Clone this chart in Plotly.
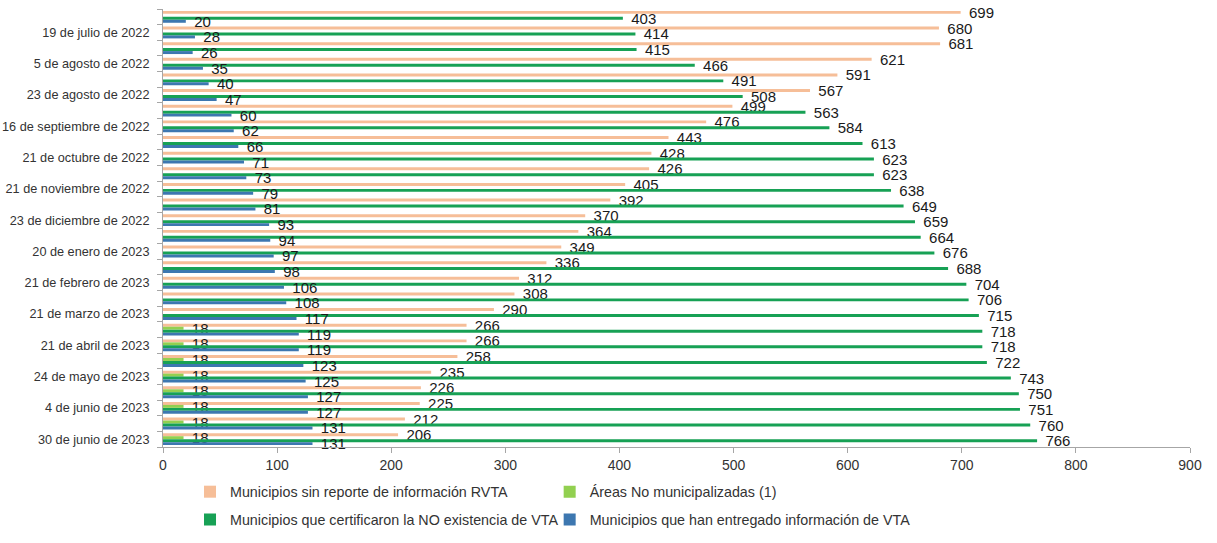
import plotly.graph_objects as go

date_labels = [
    "19 de julio de 2022", "5 de agosto de 2022", "23 de agosto de 2022",
    "16 de septiembre de 2022", "21 de octubre de 2022", "21 de noviembre de 2022",
    "23 de diciembre de 2022", "20 de enero de 2023", "21 de febrero de 2023",
    "21 de marzo de 2023", "21 de abril de 2023", "24 de mayo de 2023",
    "4 de junio de 2023", "30 de junio de 2023",
]

sin_reporte = [699, 680, 681, 621, 591, 567, 499, 476, 443, 428, 426, 405, 392, 370,
               364, 349, 336, 312, 308, 290, 266, 266, 258, 235, 226, 225, 212, 206]
no_municipalizadas = [None] * 20 + [18, 18, 18, 18, 18, 18, 18, 18]
certificaron_no = [403, 414, 415, 466, 491, 508, 563, 584, 613, 623, 623, 638, 649, 659,
                   664, 676, 688, 704, 706, 715, 718, 718, 722, 743, 750, 751, 760, 766]
entregado = [20, 28, 26, 35, 40, 47, 60, 62, 66, 71, 73, 79, 81, 93,
             94, 97, 98, 106, 108, 117, 119, 119, 123, 125, 127, 127, 131, 131]

names = [
    "Municipios sin reporte de información RVTA",
    "Áreas No municipalizadas (1)",
    "Municipios que certificaron la NO existencia de VTA",
    "Municipios que han entregado información de VTA",
]
colors = ["#F6BE98", "#92D050", "#17A155", "#3D77B0"]
series = [sin_reporte, no_municipalizadas, certificaron_no, entregado]
legends = ["legend", "legend2", "legend3", "legend4"]

n = len(sin_reporte)
ypos = list(range(n))

fig = go.Figure()
for name, col, vals, lg in zip(names, colors, series, legends):
    fig.add_trace(go.Bar(
        y=ypos, x=vals, orientation="h", name=name,
        marker=dict(color=col, line=dict(width=0)),
        text=["\u00a0\u00a0" + str(v) if v is not None else "" for v in vals],
        textposition="outside", cliponaxis=False, constraintext="none",
        textfont=dict(family="Liberation Sans, Arial", size=15, color="#1a1a1a"),
        legend=lg,
    ))

legend_common = dict(
    orientation="h", xanchor="left", yanchor="middle",
    font=dict(family="Liberation Sans, Arial", size=14.3, color="#333333"),
    itemwidth=30, bgcolor="rgba(0,0,0,0)",
)
col1, col2 = 0.0263, 0.3765
row1, row2 = -0.1025, -0.166

fig.update_layout(
    width=1217, height=543,
    margin=dict(l=163, r=27, t=9, b=96, autoexpand=False),
    paper_bgcolor="white", plot_bgcolor="white",
    barmode="group", bargap=0.24, bargroupgap=0,
    showlegend=True,
    legend=dict(x=col1, y=row1, **legend_common),
    legend2=dict(x=col2, y=row1, **legend_common),
    legend3=dict(x=col1, y=row2, **legend_common),
    legend4=dict(x=col2, y=row2, **legend_common),
    xaxis=dict(
        range=[0, 900], tickmode="linear", tick0=0, dtick=100, automargin=False,
        showgrid=False, zeroline=False, showline=True, linecolor="#A6A6A6", linewidth=1,
        ticks="outside", ticklen=5, tickcolor="#A6A6A6",
        tickfont=dict(family="Liberation Sans Narrow, Liberation Sans, Arial", size=14, color="#333333"),
    ),
    yaxis=dict(
        range=[n - 0.5, -0.5], tickmode="array", automargin=False,
        tickvals=[i for i in range(1, n, 2)], ticktext=date_labels,
        showgrid=False, zeroline=False, showline=True, linecolor="#A6A6A6", linewidth=1,
        ticks="", ticklabelstandoff=10,
        tickfont=dict(family="Liberation Sans, Arial", size=12.7, color="#333333"),
        minor=dict(tickmode="array", tickvals=[i - 0.5 for i in range(n + 1)],
                   ticks="outside", ticklen=5, tickcolor="#A6A6A6", showgrid=False),
    ),
)

fig.write_html("out.html", config={"displayModeBar": False},
               post_script="document.body.style.margin='0';")
